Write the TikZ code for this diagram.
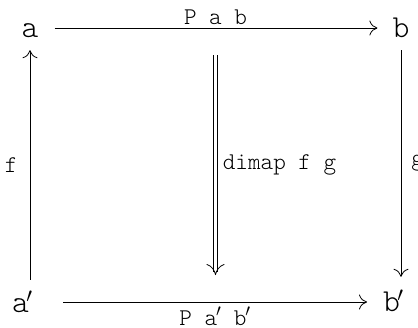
\documentclass[tikz,border=0pt]{standalone}
\usepackage{fontspec}
\setmonofont{lmmonolt10-regular.otf}
\usetikzlibrary{arrows.meta}
\begin{document}
\begin{tikzpicture}[x=1pt,y=-1pt,
  obj/.style={font=\ttfamily\fontsize{32}{32}\selectfont, inner xsep=0pt, inner ysep=0pt,
     text height=18pt, text depth=0pt},
  lbl/.style={font=\ttfamily\fontsize{24}{24}\selectfont, inner sep=0pt},
  arr/.style={line width=0.8pt, -{To[length=8pt,width=15pt]}},
  dshaft/.style={line width=0.7pt, double, double distance=3.4pt},
  dtip/.style={line width=0.8pt, -{To[length=11pt,width=18pt]}}]
\useasboundingbox (0,0) rectangle (418,327);
\node[obj, anchor=base] (a) at (30,37) {a};
\node[obj, anchor=base] (b) at (401,37) {b};
\node[obj, anchor=base west] (a2) at (12,312) {a\kern-0.08em$'$};
\node[obj, anchor=base west] (b2) at (383,311) {b\kern-0.08em$'$};
\coordinate (s) at ([xshift=51pt,yshift=10pt]a2.base west);
\coordinate (e) at ([xshift=-16pt]s -| b2.base west);
\draw[arr, shorten <=16pt, shorten >=15pt] (a.east) -- (b.west)
  node[lbl, midway, above=3pt] (pab) {P a b};
\draw[arr] (s) -- (e)
  node[lbl, midway, below=4pt] (pab2) {P a\kern-0.05em$'$ b\kern-0.05em$'$};
\draw[arr] ([yshift=14pt]a2.north -| a) -- ([yshift=-13pt]a.south)
  node[lbl, midway, left=12pt] (f) {f};
\draw[arr] ([yshift=-13pt]b.south) -- ([yshift=16pt]b2.north -| b)
  node[lbl, midway, right=10pt] (g) {g};
\coordinate (t) at (215.5,55);
\coordinate (u) at (215.5,275);
\draw[dshaft, shorten >=3pt] (t) -- (u) node[lbl, midway, right=7pt] (d) {dimap f g};
\draw[dtip] ([yshift=0.2pt]u) -- (u);
\end{tikzpicture}
\end{document}
